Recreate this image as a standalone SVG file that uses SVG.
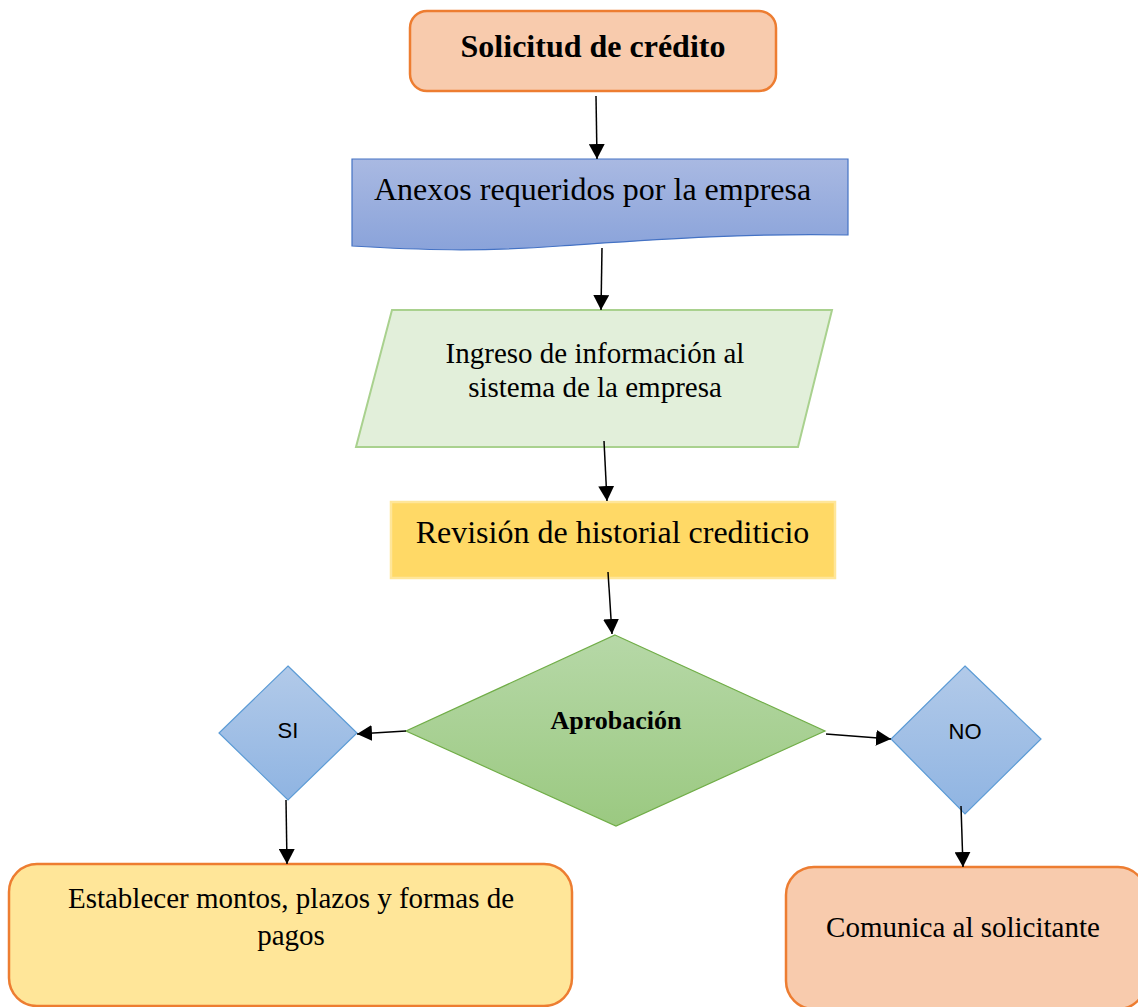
<svg xmlns="http://www.w3.org/2000/svg" width="1138" height="1007" viewBox="0 0 1138 1007">
  <defs>
    <linearGradient id="gBlue" x1="0" y1="0" x2="0" y2="1">
      <stop offset="0" stop-color="#A9B9E2"/>
      <stop offset="1" stop-color="#8AA3DA"/>
    </linearGradient>
    <linearGradient id="gGreen" x1="0" y1="0" x2="0" y2="1">
      <stop offset="0" stop-color="#B6D8A7"/>
      <stop offset="1" stop-color="#9BC981"/>
    </linearGradient>
    <linearGradient id="gSky" x1="0" y1="0" x2="0" y2="1">
      <stop offset="0" stop-color="#B2CAE9"/>
      <stop offset="1" stop-color="#8FB4E2"/>
    </linearGradient>
    <marker id="arrow" markerUnits="userSpaceOnUse" markerWidth="16" markerHeight="16" refX="15" refY="8" orient="auto">
      <path d="M0,0 L15,8 L0,16 Z" fill="#000"/>
    </marker>
  </defs>
  <style>
    .serif { font-family: "Liberation Serif", "Times New Roman", serif; fill: #000; }
    .sans { font-family: "Liberation Sans", Arial, sans-serif; fill: #000; }
    .conn { stroke: #000; stroke-width: 1.5; fill: none; marker-end: url(#arrow); }
  </style>
  <rect width="1138" height="1007" fill="#fff"/>

  <g id="solicitud">
    <rect x="410" y="11" width="366" height="80" rx="17" fill="#F8CBAD" stroke="#ED7D31" stroke-width="2.5"/>
    <text class="serif" x="593" y="57" font-size="32" font-weight="bold" text-anchor="middle">Solicitud de crédito</text>
  </g>

  <g id="anexos">
    <path d="M352,159 H848 V235 C740,233 650,240 560,246 C480,252 420,250 352,246 Z" fill="url(#gBlue)" stroke="#4472C4" stroke-width="1.2"/>
    <text class="serif" x="374" y="200" font-size="32">Anexos requeridos por la empresa</text>
  </g>

  <g id="ingreso">
    <polygon points="392,310 832,310 798,447 356,447" fill="#E2EFDA" stroke="#A9D18E" stroke-width="2"/>
    <text class="serif" x="595" y="363" font-size="29" text-anchor="middle">Ingreso de información al</text>
    <text class="serif" x="595" y="397" font-size="29" text-anchor="middle">sistema de la empresa</text>
  </g>

  <g id="revision">
    <rect x="391" y="502" width="444" height="76" fill="#FFD966" stroke="#FFE699" stroke-width="2.5"/>
    <text class="serif" x="612.5" y="543" font-size="32" text-anchor="middle">Revisión de historial crediticio</text>
  </g>

  <g id="aprobacion">
    <polygon points="615,635 825,731 616,826 406,731" fill="url(#gGreen)" stroke="#70AD47" stroke-width="1.2"/>
    <text class="serif" x="616" y="729" font-size="26" font-weight="bold" text-anchor="middle">Aprobación</text>
  </g>

  <g id="si">
    <polygon points="288,666 357,733 288,800 219,733" fill="url(#gSky)" stroke="#5B9BD5" stroke-width="1.2"/>
    <text class="sans" x="288" y="738" font-size="22" text-anchor="middle">SI</text>
  </g>

  <g id="no">
    <polygon points="965,666 1041,739 965,814 891,739" fill="url(#gSky)" stroke="#5B9BD5" stroke-width="1.2"/>
    <text class="sans" x="965" y="739" font-size="22" text-anchor="middle">NO</text>
  </g>

  <g id="establecer">
    <rect x="9" y="864" width="563" height="142" rx="28" fill="#FFE699" stroke="#ED7D31" stroke-width="2.5"/>
    <text class="serif" x="291" y="908" font-size="29" text-anchor="middle">Establecer montos, plazos y formas de</text>
    <text class="serif" x="291" y="945" font-size="29" text-anchor="middle">pagos</text>
  </g>

  <g id="comunica">
    <rect x="786" y="867" width="360" height="142" rx="28" fill="#F8CBAD" stroke="#ED7D31" stroke-width="2.5"/>
    <text class="serif" x="963" y="937" font-size="29" text-anchor="middle">Comunica al solicitante</text>
  </g>

  <g id="connectors">
    <line class="conn" x1="596" y1="96" x2="597" y2="159"/>
    <line class="conn" x1="602" y1="248" x2="601" y2="310"/>
    <line class="conn" x1="604" y1="441" x2="607" y2="501"/>
    <line class="conn" x1="608" y1="572" x2="612" y2="634"/>
    <line class="conn" x1="406" y1="731" x2="357" y2="734"/>
    <line class="conn" x1="826" y1="734" x2="891" y2="739"/>
    <line class="conn" x1="286" y1="800" x2="287" y2="864"/>
    <line class="conn" x1="961" y1="806" x2="963" y2="867"/>
  </g>
</svg>
